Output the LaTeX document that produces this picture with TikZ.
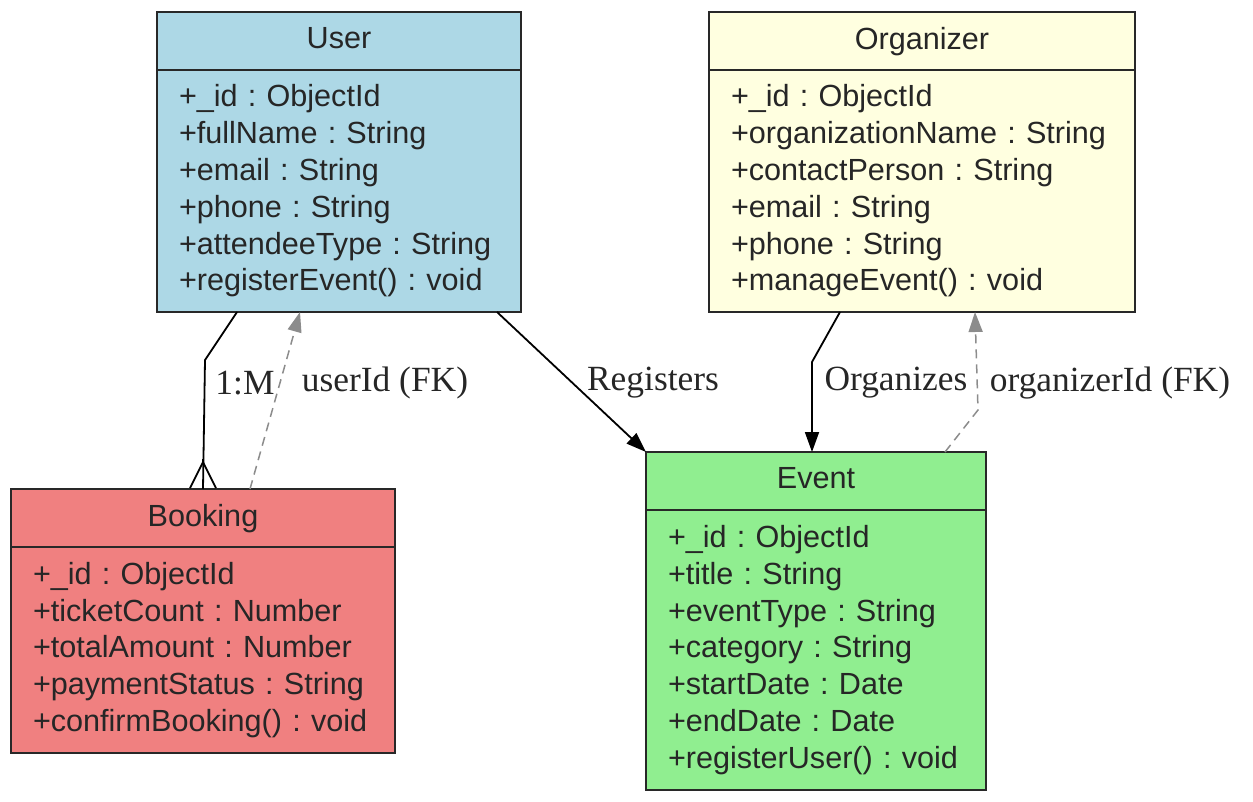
\documentclass[tikz,border=0pt]{standalone}
\usepackage{fontspec}
\setmainfont{Liberation Serif}
\newfontfamily\classfont{Liberation Sans}
\usetikzlibrary{positioning,calc,arrows.meta}
\frenchspacing

\definecolor{userblue}{RGB}{173,216,230}
\definecolor{orgyellow}{RGB}{255,255,224}
\definecolor{bookred}{RGB}{240,128,128}
\definecolor{eventgreen}{RGB}{144,238,144}
\definecolor{boxline}{RGB}{40,40,40}
\definecolor{fkgray}{RGB}{140,140,140}

\tikzset{
	classbox/.style={draw=boxline, line width=1pt, outer sep=0pt, text=black!85, font=\classfont\fontsize{15.3}{18.4}\selectfont},
	classhead/.style={classbox, minimum height=29pt, inner sep=0pt, text depth=3pt},
	classbody/.style={classbox, align=left, inner xsep=11pt, inner ysep=0pt},
	rel/.style={line width=0.9pt, draw=black, -{Triangle[length=10pt,width=7pt]}},
	crow/.style={line width=0.9pt, -{Straight Barb[reversed,length=13pt,width=13pt]}},
	fk/.style={line width=0.75pt, fkgray, dash pattern=on 4.5pt off 3pt, -{Triangle[length=10pt,width=7pt]}},
	lbl/.style={font=\fontsize{17.7}{20}\selectfont, text=black!85, inner sep=0pt}
}

\begin{document}
\begin{tikzpicture}[x=0.5pt, y=-0.5pt]
	\useasboundingbox (0,0) rectangle (1253,802);
	
	\node[classhead, fill=userblue, minimum width=182pt] (userhead) at (339,41) {User};
	\node[classbody, fill=userblue, text width=160pt, minimum height=121pt, below=0pt of userhead] (userbody) {+\_id : ObjectId\\+fullName : String\\+email : String\\+phone : String\\+attendeeType : String\\+registerEvent() : void};
	
	\node[classhead, fill=orgyellow, minimum width=213pt] (orghead) at (922,41) {Organizer};
	\node[classbody, fill=orgyellow, text width=191pt, minimum height=121pt, below=0pt of orghead] (orgbody) {+\_id : ObjectId\\+organizationName : String\\+contactPerson : String\\+email : String\\+phone : String\\+manageEvent() : void};
	
	\node[classhead, fill=bookred, minimum width=192pt] (bookhead) at (203,518) {Booking};
	\node[classbody, fill=bookred, text width=170pt, minimum height=103pt, below=0pt of bookhead] (bookbody) {+\_id : ObjectId\\+ticketCount : Number\\+totalAmount : Number\\+paymentStatus : String\\+confirmBooking() : void};
	
	\node[classhead, fill=eventgreen, minimum width=170pt] (eventhead) at (816,481) {Event};
	\node[classbody, fill=eventgreen, text width=148pt, minimum height=140pt, below=0pt of eventhead] (eventbody) {+\_id : ObjectId\\+title : String\\+eventType : String\\+category : String\\+startDate : Date\\+endDate : Date\\+registerUser() : void};
	
	% relations
	\draw[line width=0.9pt] ($(userbody.south)+(-102,0)$) -- ++(-32,48) -- (bookhead.north);
	\draw[crow] ($(bookhead.north)+(0,-30)$) -- (bookhead.north);
	\draw[fk] ($(bookhead.north)+(47,0)$) -- ($(userbody.south)+(-39,0)$);
	\draw[rel] ($(userbody.south)+(158,0)$) -- (eventhead.north west);
	\draw[rel] ($(orgbody.south)+(-82,0)$) -- ++(-28,50) -- ($(eventhead.north)+(-4,0)$);
	\draw[fk] ($(eventhead.north)+(129,0)$) -- ++(33,-42) -- ($(orgbody.south)+(53,0)$);
	
	\node[lbl] (onemany) at (245,383) {1:M};
	\node[lbl] (userfk) at (385,383) {userId (FK)};
	\node[lbl] (registers) at (653,383) {Registers};
	\node[lbl] (organizes) at (896,383) {Organizes};
	\node[lbl] (orgfk) at (1110,383) {organizerId (FK)};
\end{tikzpicture}
\end{document}
